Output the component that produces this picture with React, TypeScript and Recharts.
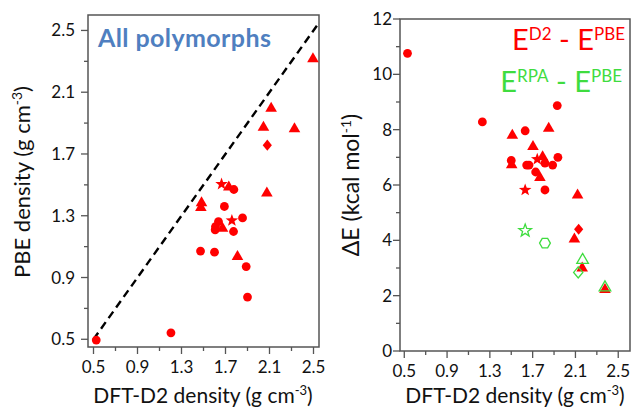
import React from "react";
import { ScatterChart, Scatter, XAxis, YAxis, ReferenceLine, ReferenceArea } from "recharts";

const FONT = "Lato, 'Open Sans', sans-serif";
const RED = "#ff0000";
const GREEN = "#3fdc3f";
const BLUE = "#4f7fc0";
const AXIS = "#555555";
const INK = "#111111";

// left panel: PBE density vs DFT-D2 density (g cm-3)
const densCircles = [
  { x: 1.776, y: 1.47 }, { x: 1.69, y: 1.36 }, { x: 1.855, y: 1.286 }, { x: 1.636, y: 1.262 },
  { x: 1.609, y: 1.23 }, { x: 1.606, y: 1.209 }, { x: 1.773, y: 1.198 }, { x: 1.473, y: 1.071 },
  { x: 1.6, y: 1.064 }, { x: 1.888, y: 0.971 }, { x: 1.9, y: 0.773 }, { x: 1.204, y: 0.542 },
  { x: 0.525, y: 0.495 },
];
const densTriangles = [
  { x: 2.495, y: 2.32 }, { x: 2.115, y: 2.0 }, { x: 2.045, y: 1.877 }, { x: 2.327, y: 1.867 },
  { x: 1.73, y: 1.49 }, { x: 2.076, y: 1.45 }, { x: 1.482, y: 1.388 }, { x: 1.476, y: 1.356 },
  { x: 1.673, y: 1.222 }, { x: 1.809, y: 1.04 },
];
const densStars = [{ x: 1.664, y: 1.505 }, { x: 1.758, y: 1.269 }];
const densDiamonds = [{ x: 2.08, y: 1.757 }];
const diagonal = [{ x: 0.5, y: 0.5 }, { x: 2.55, y: 2.55 }];

// right panel: dE (kcal/mol) vs DFT-D2 density
const d2Circles = [
  { x: 0.53, y: 10.76 }, { x: 1.23, y: 8.28 }, { x: 1.93, y: 8.87 }, { x: 1.63, y: 7.96 },
  { x: 1.5, y: 6.89 }, { x: 1.644, y: 6.72 }, { x: 1.666, y: 6.72 }, { x: 1.815, y: 6.79 },
  { x: 1.887, y: 6.72 }, { x: 1.936, y: 7.0 }, { x: 1.728, y: 6.47 }, { x: 1.815, y: 5.82 },
];
const d2Triangles = [
  { x: 1.85, y: 8.07 }, { x: 1.51, y: 7.82 }, { x: 1.703, y: 7.41 }, { x: 1.504, y: 6.75 },
  { x: 1.793, y: 7.04 }, { x: 1.768, y: 6.29 }, { x: 2.12, y: 5.66 }, { x: 2.09, y: 4.07 },
  { x: 2.163, y: 3.02 }, { x: 2.376, y: 2.24 },
];
const d2Stars = [{ x: 1.743, y: 6.93 }, { x: 1.63, y: 5.82 }];
const d2Diamonds = [{ x: 2.13, y: 4.4 }];
const rpaStars = [{ x: 1.63, y: 4.35 }];
const rpaHexagons = [{ x: 1.815, y: 3.9 }];
const rpaTriangles = [{ x: 2.167, y: 3.31 }, { x: 2.376, y: 2.32 }];
const rpaDiamonds = [{ x: 2.126, y: 2.84 }];

const xMajor = [0.5, 0.9, 1.3, 1.7, 2.1, 2.5];
const xMinor = [0.7, 1.1, 1.5, 1.9, 2.3];
const densMajor = [0.5, 0.9, 1.3, 1.7, 2.1, 2.5];
const densMinor = [0.7, 1.1, 1.5, 1.9, 2.3];
const dEMajor = [0, 2, 4, 6, 8, 10, 12];
const dEMinor = [1, 3, 5, 7, 9, 11];

const TICK_SIZE = 6;
const TICK_MARGIN = 4;

function Marker({ cx, cy, kind, color, hollow }: any) {
  if (cx == null || cy == null) return null;
  const paint = hollow
    ? { fill: "none", stroke: color, strokeWidth: 1.3 }
    : { fill: color, stroke: "none" };
  if (kind === "circle") return <circle cx={cx} cy={cy} r={4.4} {...paint} />;
  let pts: number[][] = [];
  if (kind === "tri") pts = [[0, -6], [5.8, 4], [-5.8, 4]];
  if (kind === "diamond") pts = [[0, -5.6], [4.6, 0], [0, 5.6], [-4.6, 0]];
  if (kind === "star") {
    for (let i = 0; i < 10; i++) {
      const r = i % 2 === 0 ? 6.6 : 2.7;
      const a = -Math.PI / 2 + (i * Math.PI) / 5;
      pts.push([r * Math.cos(a), r * Math.sin(a)]);
    }
  }
  if (kind === "hex") {
    for (let i = 0; i < 6; i++) {
      const a = (i * Math.PI) / 3;
      pts.push([5.4 * Math.cos(a), 5.4 * Math.sin(a)]);
    }
  }
  const d = pts.map((p, i) => `${i ? "L" : "M"}${cx + p[0]},${cy + p[1]}`).join(" ") + " Z";
  return <path d={d} {...paint} />;
}

const shape = (kind: string, color: string, hollow = false) => (p: any) => (
  <Marker cx={p.cx} cy={p.cy} kind={kind} color={color} hollow={hollow} />
);

const XTick = (props: any) => {
  const { x, y, payload } = props;
  const y0 = y - TICK_SIZE - TICK_MARGIN;
  const major = xMajor.includes(payload.value);
  return (
    <g>
      <line x1={x} x2={x} y1={y0} y2={y0 + (major ? 7 : 4)} stroke={AXIS} strokeWidth={1.3} />
      {major && (
        <text x={x} y={y0 + 26} textAnchor="middle" fontSize={17} fontFamily={FONT} fill={INK}>
          {payload.value.toFixed(1)}
        </text>
      )}
    </g>
  );
};

const makeYTick = (majors: number[], gap: number, digits: number) => (props: any) => {
  const { x, y, payload } = props;
  const x0 = x + TICK_SIZE + TICK_MARGIN;
  const major = majors.includes(payload.value);
  return (
    <g>
      <line x1={x0} x2={x0 - (major ? 7 : 4)} y1={y} y2={y} stroke={AXIS} strokeWidth={1.3} />
      {major && (
        <text x={x0 - gap} y={y + 6} textAnchor="end" fontSize={17} fontFamily={FONT} fill={INK}>
          {payload.value.toFixed(digits)}
        </text>
      )}
    </g>
  );
};

const DensTick = makeYTick(densMajor, 13, 1);
const DETick = makeYTick(dEMajor, 8, 0);

const xTitle = (cx: number) => () => (
  <text x={cx} y={403} textAnchor="middle" fontSize={21} fontFamily={FONT} fill={INK}>
    DFT-D2 density (g cm<tspan dy={-8} fontSize={13}>-3</tspan><tspan dy={8}>)</tspan>
  </text>
);

const leftTitles = () => (
  <g fontFamily={FONT}>
    <text x={30} y={182} transform="rotate(-90, 30, 182)" textAnchor="middle" fontSize={22} fill={INK}>
      PBE density (g cm<tspan dy={-8} fontSize={14}>-3</tspan><tspan dy={8}>)</tspan>
    </text>
    <text x={98} y={47} fontSize={25} letterSpacing={0.4} fontWeight="bold" fill={BLUE}>
      All polymorphs
    </text>
  </g>
);

const rightTitles = () => (
  <g fontFamily={FONT}>
    <text x={39} y={185} transform="rotate(-90, 39, 185)" textAnchor="middle" fontSize={23} fill={INK}>
      ΔE (kcal mol<tspan dy={-8} fontSize={14}>-1</tspan><tspan dy={8}>)</tspan>
    </text>
    <text x={305} y={50} textAnchor="end" fontSize={29} fill={RED}>
      E<tspan dy={-10} fontSize={17}>D2</tspan><tspan dy={10}> - E</tspan>
      <tspan dy={-10} fontSize={17}>PBE</tspan>
    </text>
    <text x={302} y={92} textAnchor="end" fontSize={29} fill={GREEN}>
      E<tspan dy={-10} fontSize={17}>RPA</tspan><tspan dy={10}> - E</tspan>
      <tspan dy={-10} fontSize={17}>PBE</tspan>
    </text>
  </g>
);

const X_DOMAIN_L = [0.45, 2.55];
const Y_DOMAIN_L = [0.45, 2.6];
const X_DOMAIN_R = [0.46, 2.61];
const Y_DOMAIN_R = [0, 12];

export default function App() {
  const xTicks = [...xMajor, ...xMinor].sort((a, b) => a - b);
  return (
    <div style={{ position: "absolute", left: 0, top: 0, width: 638, height: 411, background: "#fff" }}>
      <div style={{ position: "absolute", left: 0, top: 0 }}>
        <ScatterChart width={330} height={411} margin={{ top: 15, right: 11, bottom: 0, left: 0 }}>
          <XAxis
            type="number" dataKey="x" domain={X_DOMAIN_L} allowDataOverflow ticks={xTicks} interval={0}
            height={64} axisLine={false} tickLine={false} tickSize={TICK_SIZE} tickMargin={TICK_MARGIN}
            tick={<XTick />} label={xTitle(203)}
          />
          <YAxis
            type="number" dataKey="y" domain={Y_DOMAIN_L} allowDataOverflow
            ticks={[...densMajor, ...densMinor].sort((a, b) => a - b)} interval={0}
            width={88} axisLine={false} tickLine={false} tickSize={TICK_SIZE} tickMargin={TICK_MARGIN}
            tick={<DensTick />} label={leftTitles}
          />
          <ReferenceArea
            x1={X_DOMAIN_L[0]} x2={X_DOMAIN_L[1]} y1={Y_DOMAIN_L[0]} y2={Y_DOMAIN_L[1]}
            fill="none" stroke={AXIS} strokeWidth={1.5} fillOpacity={0}
          />
          <ReferenceLine
            segment={diagonal} stroke="#000" strokeWidth={2.4} strokeDasharray="8 5" ifOverflow="visible"
          />
          <Scatter data={densCircles} shape={shape("circle", RED)} isAnimationActive={false} />
          <Scatter data={densTriangles} shape={shape("tri", RED)} isAnimationActive={false} />
          <Scatter data={densStars} shape={shape("star", RED)} isAnimationActive={false} />
          <Scatter data={densDiamonds} shape={shape("diamond", RED)} isAnimationActive={false} />
        </ScatterChart>
      </div>
      <div style={{ position: "absolute", left: 320, top: 0 }}>
        <ScatterChart width={318} height={411} margin={{ top: 19, right: 8, bottom: 0, left: 0 }}>
          <XAxis
            type="number" dataKey="x" domain={X_DOMAIN_R} allowDataOverflow ticks={xTicks} interval={0}
            height={60} axisLine={false} tickLine={false} tickSize={TICK_SIZE} tickMargin={TICK_MARGIN}
            tick={<XTick />} label={xTitle(195)}
          />
          <YAxis
            type="number" dataKey="y" domain={Y_DOMAIN_R} allowDataOverflow
            ticks={[...dEMajor, ...dEMinor].sort((a, b) => a - b)} interval={0}
            width={80} axisLine={false} tickLine={false} tickSize={TICK_SIZE} tickMargin={TICK_MARGIN}
            tick={<DETick />} label={rightTitles}
          />
          <ReferenceArea
            x1={X_DOMAIN_R[0]} x2={X_DOMAIN_R[1]} y1={Y_DOMAIN_R[0]} y2={Y_DOMAIN_R[1]}
            fill="none" stroke={AXIS} strokeWidth={1.5} fillOpacity={0}
          />
          <Scatter data={d2Circles} shape={shape("circle", RED)} isAnimationActive={false} />
          <Scatter data={d2Triangles} shape={shape("tri", RED)} isAnimationActive={false} />
          <Scatter data={d2Stars} shape={shape("star", RED)} isAnimationActive={false} />
          <Scatter data={d2Diamonds} shape={shape("diamond", RED)} isAnimationActive={false} />
          <Scatter data={rpaStars} shape={shape("star", GREEN, true)} isAnimationActive={false} />
          <Scatter data={rpaHexagons} shape={shape("hex", GREEN, true)} isAnimationActive={false} />
          <Scatter data={rpaTriangles} shape={shape("tri", GREEN, true)} isAnimationActive={false} />
          <Scatter data={rpaDiamonds} shape={shape("diamond", GREEN, true)} isAnimationActive={false} />
        </ScatterChart>
      </div>
    </div>
  );
}
